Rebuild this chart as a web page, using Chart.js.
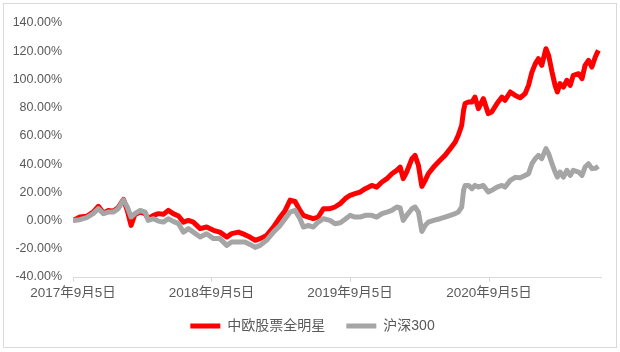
<!DOCTYPE html>
<html>
<head>
<meta charset="utf-8">
<script src="https://cdn.jsdelivr.net/npm/chart.js@4"></script>
<style>
html,body{margin:0;padding:0;background:#fff;}
#wrap{width:620px;height:352px;position:relative;}
</style>
</head>
<body>
<div id="wrap"><canvas id="c" width="620" height="352"></canvas></div>
<script>
// days since 2017-09-05
const days = [0,18,36,53,67,80,93,106,119,133,143,153,163,177,190,198,212,225,238,
251,264,278,291,304,317,335,352,370,387,405,418,436,453,466,480,
493,510,528,546,559,572,585,598,607,620,633,646,660,677,690,704,717,
730,743,756,770,787,800,814,827,840,853,862,870,879,893,901,910,919,928,936,950,
967,980,994,1007,1015,1024,1029,1033,1042,1051,1059,1068,1081,1094,1103,1117,1130,1138,1152,1165,1178,1191,
1200,1209,1218,1226,1235,1246,1253,1262,1270,1276,1283,1292,1301,1310,1318,1332,1341,1349,1358,1367,1376,1384];

const fundValues = [0,2.5,3.0,6.0,10.1,5.3,7.2,6.7,9.1,15.0,7.2,-3.4,4.4,6.0,4.9,1.3,3.7,4.9,4.4,
7.2,4.9,3.2,-1.1,0.1,-1.1,-5.7,-4.6,-6.9,-8.2,-11.7,-9.3,-8.2,-10.0,-11.7,-14.0,
-12.8,-10.5,-4.6,2.5,7.2,14.5,13.5,7.2,3.7,2.5,1.3,2.5,8.4,8.4,9.6,12.0,15.5,
17.9,19.1,20.2,22.6,24.9,23.7,27.3,29.7,33.2,35.6,37.9,29.7,34.4,43.9,46.2,39.2,24.2,28.5,33.2,37.9,
42.7,46.2,51.0,55.6,60.4,67.5,78.1,82.9,84.0,84.0,87.5,79.3,86.4,75.8,76.9,82.9,87.5,85.2,91.1,88.7,87.0,89.9,
95.8,105.2,111.2,114.7,110.0,121.8,117.1,105.2,95.8,91.1,97.0,94.6,99.4,95.8,102.9,104.1,100.6,110.0,113.5,108.8,115.9,120.6];

const hs300Values = [0,0.6,2.1,4.9,8.4,4.9,6.0,6.0,8.4,14.7,9.6,2.5,4.9,7.2,6.0,0.1,1.3,-0.4,-1.1,
1.3,-0.6,-2.2,-8.2,-5.7,-8.2,-11.7,-9.3,-12.8,-12.8,-17.6,-15.2,-15.2,-15.2,-16.9,-19.0,
-17.6,-14.0,-8.2,-3.4,1.3,6.0,7.2,1.3,-4.6,-3.4,-4.6,-1.1,1.3,0.1,-2.2,-1.6,0.9,
3.7,2.5,2.5,3.7,3.7,2.5,4.9,6.0,7.2,9.6,8.9,0.1,3.7,8.4,9.6,6.0,-7.7,-3.4,-1.1,0.1,
1.3,2.5,3.7,4.9,6.0,9.6,21.4,24.9,24.9,22.6,24.9,23.7,24.9,20.2,21.4,23.7,24.9,23.7,28.5,30.6,30.3,32.0,
33.2,40.3,43.9,46.2,43.9,51.0,47.4,40.3,34.4,30.8,34.4,30.8,35.6,32.0,35.6,34.4,32.0,37.9,40.3,36.8,37.0,38.5];

const seriesNames = ['中欧股票全明星', '沪深300'];
const tickDays = [0, 365, 730, 1096];
const tickLabels = ['2017年9月5日', '2018年9月5日', '2019年9月5日', '2020年9月5日'];
const yTicks = [-40, -20, 0, 20, 40, 60, 80, 100, 120, 140];

const toPts = vals => days.map((d, i) => ({x: d, y: vals[i]}));

const borderPlugin = {
  id: 'outerBorder',
  afterLayout(chart) {
    const lg = chart.legend;
    if (lg) { lg.left += 12; lg.right += 12; }
  },
  beforeDraw(chart) {
    const ctx = chart.ctx;
    ctx.save();
    ctx.fillStyle = '#ffffff';
    ctx.fillRect(0, 0, chart.width, chart.height);
    ctx.strokeStyle = '#D9D9D9';
    ctx.lineWidth = 1;
    ctx.strokeRect(3.5, 3.5, 613, 344);
    ctx.restore();
  }
};

const txtFont = "'Liberation Sans', 'Noto Sans CJK SC', sans-serif";

new Chart(document.getElementById('c'), {
  type: 'line',
  data: {
    datasets: [
      {
        label: seriesNames[0],
        data: toPts(fundValues),
        borderColor: '#FF0000',
        backgroundColor: '#FF0000',
        borderWidth: 5,
        pointRadius: 0,
        tension: 0,
        borderJoinStyle: 'round',
        order: 1
      },
      {
        label: seriesNames[1],
        data: toPts(hs300Values),
        borderColor: '#A5A5A5',
        backgroundColor: '#A5A5A5',
        borderWidth: 5,
        pointRadius: 0,
        tension: 0,
        borderJoinStyle: 'round',
        order: 0
      }
    ]
  },
  options: {
    responsive: false,
    animation: false,
    devicePixelRatio: 1,
    layout: {padding: {left: 0, right: 19, top: 23, bottom: 9}},
    plugins: {
      legend: {
        position: 'bottom',
        labels: {
          usePointStyle: true,
          pointStyle: 'line',
          pointStyleWidth: 30,
          padding: 21,
          color: '#595959',
          font: {family: txtFont, size: 14},
          sort: (a, b) => a.datasetIndex - b.datasetIndex
        }
      },
      tooltip: {enabled: false}
    },
    scales: {
      x: {
        type: 'linear',
        min: 0,
        max: 1391,
        afterFit(scale) { scale.height = 21; },
        afterBuildTicks(scale) { scale.ticks = tickDays.map(v => ({value: v})); },
        grid: {drawOnChartArea: false, drawTicks: true, tickLength: 5, color: '#D9D9D9'},
        border: {display: true, color: '#D9D9D9', width: 1},
        ticks: {
          autoSkip: false,
          maxRotation: 0,
          padding: 3,
          color: '#595959',
          font: {family: txtFont, size: 13.5},
          callback: (v, i) => tickLabels[i]
        }
      },
      y: {
        min: -40,
        max: 140,
        afterFit(scale) { scale.width = 73; },
        afterBuildTicks(scale) { scale.ticks = yTicks.map(v => ({value: v})); },
        grid: {display: false, drawTicks: false},
        border: {display: false},
        ticks: {
          padding: 11,
          color: '#595959',
          font: {family: txtFont, size: 12.5},
          callback: v => v.toFixed(2) + '%'
        }
      }
    }
  },
  plugins: [borderPlugin]
});
</script>
</body>
</html>
